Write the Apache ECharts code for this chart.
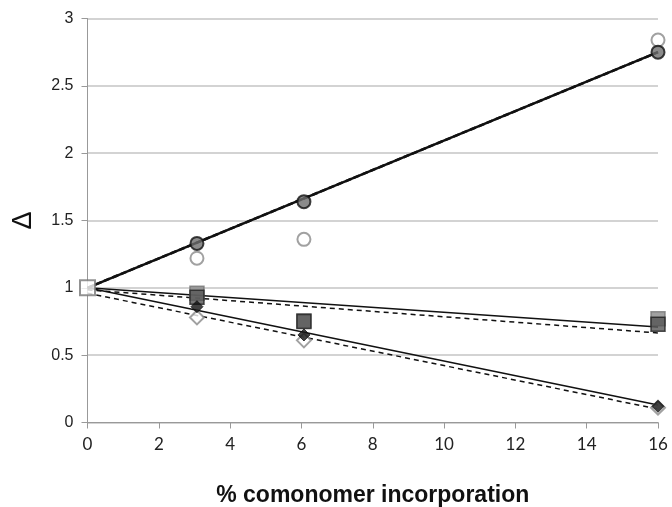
<!DOCTYPE html>
<html>
<head>
<meta charset="utf-8">
<script src="https://cdn.jsdelivr.net/npm/echarts@6/dist/echarts.min.js"></script>
<style>
  html, body { margin: 0; padding: 0; background: #fff; }
  #chart { width: 672px; height: 507px; }
</style>
</head>
<body>
<div id="chart"></div>
<script>
// measured points (x = % comonomer, y = delta)
var xPts = [3.07, 6.07, 16];
var circleFilled = [1.33, 1.64, 2.75];
var circleOpen = [1.22, 1.36, 2.84];
var squareFilled = [0.93, 0.75, 0.73];
var squareOpen = [0.96, 0.755, 0.77];
var diamondFilled = [0.86, 0.65, 0.12];
var diamondOpen = [0.78, 0.61, 0.11];
var refPoint = [[0, 1]];

// fitted lines, start and end values at x = 0 and x = 16
var lineX = [0, 16];
var circleFitSolid = [1, 2.75];
var circleFitDash = [1, 2.75];
var squareFitSolid = [1, 0.71];
var squareFitDash = [0.985, 0.665];
var diamondFitSolid = [1, 0.13];
var diamondFitDash = [0.96, 0.10];

function pairs(xs, ys) {
  return ys.map(function (v, i) { return [xs[i], v]; });
}

function fit(ys, type, width) {
  return {
    type: 'line',
    data: pairs(lineX, ys),
    symbol: 'none',
    silent: true,
    lineStyle: { color: '#111', width: width, type: type },
    z: 2
  };
}

function pts(ys, symbol, size, fill, border, bw, z) {
  return {
    type: 'scatter',
    data: pairs(xPts, ys),
    symbol: symbol,
    symbolSize: size,
    itemStyle: { color: fill, borderColor: border, borderWidth: bw },
    z: z
  };
}

var chart = echarts.init(document.getElementById('chart'));
var option = {
  animation: false,
  grid: { left: 87.5, right: 14, top: 18.5, bottom: 84.5, containLabel: false, outerBoundsMode: 'none' },
  xAxis: {
    type: 'value',
    min: 0, max: 16, interval: 2,
    name: '% comonomer incorporation',
    nameLocation: 'middle',
    nameGap: 62,
    nameTextStyle: { fontFamily: 'Liberation Sans', fontWeight: 'bold', fontSize: 23, color: '#111' },
    axisLine: { onZero: false, lineStyle: { color: '#999', width: 1 } },
    axisTick: { show: true, length: 6, lineStyle: { color: '#999' } },
    axisLabel: { fontFamily: 'Lato', fontSize: 17, color: '#222', margin: 14 },
    splitLine: { show: false }
  },
  yAxis: {
    type: 'value',
    min: 0, max: 3, interval: 0.5,
    name: 'Δ',
    nameLocation: 'middle',
    nameGap: 50,
    nameTextStyle: { fontFamily: 'Liberation Sans', fontSize: 27, color: '#111' },
    axisLine: { show: true, lineStyle: { color: '#999', width: 1 } },
    axisTick: { show: true, length: 6, lineStyle: { color: '#999' } },
    axisLabel: { fontFamily: 'Liberation Sans', fontSize: 16, color: '#222', margin: 14 },
    splitLine: { show: true, lineStyle: { color: '#c4c4c4', width: 1.5 } }
  },
  series: [
    fit(circleFitSolid, 'solid', 2.5),
    fit(circleFitDash, [6, 3], 2.5),
    fit(squareFitSolid, 'solid', 1.5),
    fit(squareFitDash, [5, 4], 1.5),
    fit(diamondFitSolid, 'solid', 1.5),
    fit(diamondFitDash, [5, 4], 1.5),
    pts(circleOpen, 'circle', 13, '#fff', '#8a8a8a', 2, 3),
    pts(circleFilled, 'circle', 13, '#6e6e6e', '#111', 2, 4),
    pts(squareOpen, 'rect', 14, '#8a8a8a', '#777', 1.5, 3),
    pts(squareFilled, 'rect', 14, '#555', '#222', 1.5, 4),
    pts(diamondOpen, 'diamond', 14, '#fff', '#8a8a8a', 2, 3),
    pts(diamondFilled, 'diamond', 12, '#111', '#111', 1, 4),
    {
      type: 'scatter',
      data: refPoint,
      symbol: 'rect',
      symbolSize: 15,
      itemStyle: { color: '#fff', borderColor: '#777', borderWidth: 2 },
      z: 5
    }
  ]
};
chart.setOption(option);
</script>
</body>
</html>
